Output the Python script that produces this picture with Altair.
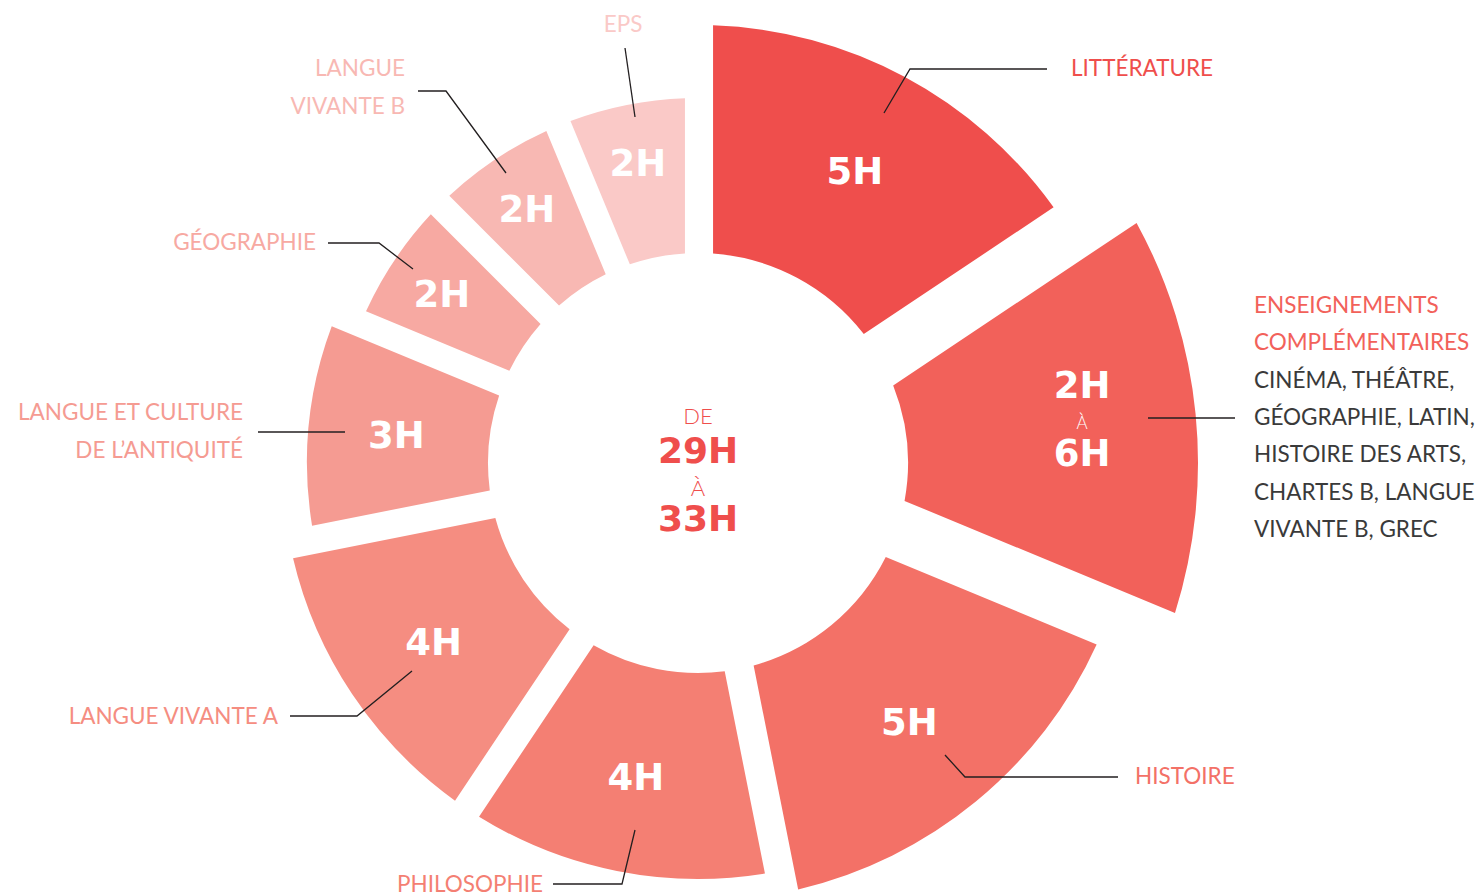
import math
import altair as alt
import pandas as pd

# ---------------- DATA ----------------
matieres = ["LITTÉRATURE", "ENSEIGNEMENTS COMPLÉMENTAIRES", "HISTOIRE", "PHILOSOPHIE",
            "LANGUE VIVANTE A", "LANGUE ET CULTURE DE L’ANTIQUITÉ", "GÉOGRAPHIE",
            "LANGUE VIVANTE B", "EPS"]
heures_min = [5, 2, 5, 4, 4, 3, 2, 2, 2]
heures_max = [5, 6, 5, 4, 4, 3, 2, 2, 2]
part_angulaire = [5, 5, 5, 4, 4, 3, 2, 2, 2]
couleurs = ["#EF4E4C", "#F2615A", "#F37167", "#F47F73", "#F58D81",
            "#F59B92", "#F7A9A2", "#F8B8B3", "#FAC9C7"]
etiquettes = [["LITTÉRATURE"], ["ENSEIGNEMENTS", "COMPLÉMENTAIRES"], ["HISTOIRE"],
              ["PHILOSOPHIE"], ["LANGUE VIVANTE A"], ["LANGUE ET CULTURE", "DE L’ANTIQUITÉ"],
              ["GÉOGRAPHIE"], ["LANGUE", "VIVANTE B"], ["EPS"]]
details_ens = ["CINÉMA, THÉÂTRE,", "GÉOGRAPHIE, LATIN,", "HISTOIRE DES ARTS,",
               "CHARTES B, LANGUE", "VIVANTE B, GREC"]
total_min, total_max = 29, 33

# ---------------- LAYOUT ----------------
W, H = 1467, 886
OFF = 8                      # page margin
CX, CY = 698 - OFF, 463 - OFF
R_IN = 210
PAD = 0.062
PAD_ENS = 0.1625
rayon_domaine = [2, 3, 4, 5, 6]
rayon_ext = [365, 391, 416, 438, 500]
rayon_lab = [308, 303, 318, 333, 386]
FONT = "Lato"
FONT_BOLD = "DejaVu Sans"
LINE_H = 37.4
DARK = "#3a3a3a"
LEADER = "#231f20"
CENTRE_COL = "#EF4E4C"

# leader lines (page coordinates) and label anchors
leaders = [
    [(884, 113), (910, 69), (1047, 69)],
    [(1148, 418), (1235, 418)],
    [(945, 755), (965, 777), (1118, 777)],
    [(635, 830), (622, 884), (553, 884)],
    [(412, 671), (357, 716), (290, 716)],
    [(345, 432), (258, 432)],
    [(413, 269), (379, 243), (328, 243)],
    [(506, 173), (446, 91), (418, 91)],
    [(635, 117), (625, 48)],
]
ancres = [(1071, 69, "left"), (1254, 418, "left"), (1135, 777, "left"),
          (543, 885, "right"), (278, 717, "right"), (243, 432, "right"),
          (316, 243, "right"), (405, 88, "right"), (623, 25, "center")]

# ---------------- BUILD ----------------
df = pd.DataFrame({"ordre": list(range(len(matieres))), "matiere": matieres,
                   "hmin": heures_min, "hmax": heures_max,
                   "part": part_angulaire, "couleur": couleurs})
total_part = sum(part_angulaire)
theta_scale = alt.Scale(domain=[0, total_part], range=[0, 2 * math.pi])
rad_scale = alt.Scale(type="linear", domain=rayon_domaine, range=rayon_ext)
lab_scale = alt.Scale(type="linear", domain=rayon_domaine, range=rayon_lab)

base = (alt.Chart(df)
        .transform_window(cum="sum(part)", sort=[{"field": "ordre"}], frame=[None, 0])
        .transform_calculate(debut="datum.cum - datum.part", fin="datum.cum",
                             milieu="datum.cum - datum.part / 2"))

pos = dict(x=alt.value(CX), y=alt.value(CY))


def arc_layer(filtre, pad):
    return base.transform_filter(filtre).mark_arc(innerRadius=R_IN, padAngle=pad).encode(
        theta=alt.Theta("debut:Q", scale=theta_scale, stack=False),
        theta2=alt.Theta2("fin:Q"),
        radius=alt.Radius("hmax:Q", scale=rad_scale),
        color=alt.Color("couleur:N", scale=None),
        **pos,
    )


arcs_simples = arc_layer("datum.hmin == datum.hmax", PAD)
arc_ens = arc_layer("datum.hmin != datum.hmax", PAD_ENS)

lab_enc = dict(theta=alt.Theta("milieu:Q", scale=theta_scale, stack=False),
               radius=alt.Radius("hmax:Q", scale=lab_scale), **pos)


def inner_text(filtre, expr, dy, weight="bold", size=37, font=FONT_BOLD):
    return (base.transform_filter(filtre)
            .transform_calculate(txt=expr)
            .mark_text(font=font, fontWeight=weight, fontSize=size, color="white",
                       align="center", baseline="middle", dy=dy)
            .encode(text="txt:N", **lab_enc))


lab_simples = inner_text("datum.hmin == datum.hmax", "datum.hmin + 'H'", 4)
lab_ens_min = inner_text("datum.hmin != datum.hmax", "datum.hmin + 'H'", -38)
lab_ens_max = inner_text("datum.hmin != datum.hmax", "datum.hmax + 'H'", 30)
lab_ens_a = inner_text("datum.hmin != datum.hmax", "'À'", -1, weight=300, size=17, font=FONT)

# centre
centre_df = pd.DataFrame({
    "txt": ["DE", f"{total_min}H", "À", f"{total_max}H"],
    "y": [CY - 46, CY - 11, CY + 26, CY + 57],
    "gras": [False, True, False, True],
})
centre_fin = alt.Chart(centre_df).transform_filter("!datum.gras").mark_text(
    font=FONT, fontWeight=300, fontSize=22, color=CENTRE_COL, align="center",
    baseline="middle").encode(x=alt.value(CX), y=alt.Y("y:Q", scale=None, axis=None),
                              text="txt:N")
centre_gras = alt.Chart(centre_df).transform_filter("datum.gras").mark_text(
    font=FONT_BOLD, fontWeight="bold", fontSize=36, color=CENTRE_COL, align="center",
    baseline="middle").encode(x=alt.value(CX), y=alt.Y("y:Q", scale=None, axis=None),
                              text="txt:N")

# leader lines
rows = []
for i, pts in enumerate(leaders):
    for k, (px, py) in enumerate(pts):
        rows.append({"id": i, "k": k, "x": px - OFF, "y": py - OFF})
lead_df = pd.DataFrame(rows)
lignes = alt.Chart(lead_df).mark_line(color=LEADER, strokeWidth=1.3).encode(
    x=alt.X("x:Q", scale=None, axis=None), y=alt.Y("y:Q", scale=None, axis=None),
    detail="id:N", order="k:Q")

# external labels
lab_rows = []
for i, (ax, ay, al) in enumerate(ancres):
    lignes_txt = [(t, couleurs[i]) for t in etiquettes[i]]
    if heures_min[i] != heures_max[i]:
        lignes_txt += [(t, DARK) for t in details_ens]
    n = len(lignes_txt)
    for j, (t, c) in enumerate(lignes_txt):
        lab_rows.append({"txt": t, "x": ax - OFF,
                         "y": ay - OFF + (j - (n - 1) / 2) * LINE_H,
                         "align": al, "couleur": c})
lab_df = pd.DataFrame(lab_rows)


def ext_layer(al):
    return alt.Chart(lab_df).transform_filter(f"datum.align == '{al}'").mark_text(
        font=FONT, fontSize=22.5, align=al, baseline="middle").encode(
        x=alt.X("x:Q", scale=None, axis=None), y=alt.Y("y:Q", scale=None, axis=None),
        text="txt:N", color=alt.Color("couleur:N", scale=None))


chart = (alt.layer(arcs_simples, arc_ens, lignes, lab_simples, lab_ens_min, lab_ens_max,
                   lab_ens_a, centre_fin, centre_gras,
                   ext_layer("left"), ext_layer("right"), ext_layer("center"))
         .resolve_scale(radius="independent")
         .properties(width=W, height=H, padding=0, autosize="none", background="white")
         .configure_view(stroke=None))

chart.save("out.html", embed_options={"renderer": "svg", "actions": False})
